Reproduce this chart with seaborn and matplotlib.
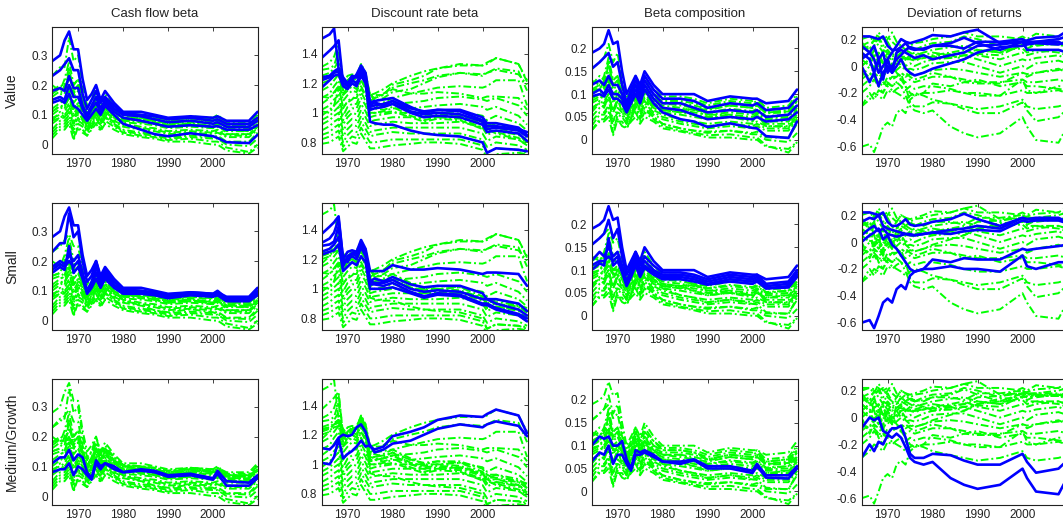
import seaborn as sns
import matplotlib.pyplot as plt

# sample points (years) shared by every series
YEARS = [1964.2, 1966, 1967, 1968, 1969, 1970, 1971, 1972, 1973, 1974, 1975, 1976,
         1978, 1980, 1984, 1987, 1990, 1995, 2000, 2001, 2003, 2008, 2009.9]

# ---- Cash flow beta ----
CF_VALUE = [
    [0.28, 0.30, 0.35, 0.38, 0.32, 0.32, 0.22, 0.15, 0.17, 0.20, 0.15, 0.18, 0.14, 0.11, 0.11, 0.10, 0.09, 0.095, 0.09, 0.095, 0.08, 0.08, 0.11],
    [0.23, 0.25, 0.27, 0.29, 0.25, 0.25, 0.17, 0.12, 0.15, 0.18, 0.14, 0.16, 0.13, 0.105, 0.10, 0.095, 0.085, 0.09, 0.08, 0.085, 0.07, 0.07, 0.09],
    [0.18, 0.19, 0.18, 0.23, 0.19, 0.19, 0.13, 0.10, 0.13, 0.16, 0.12, 0.15, 0.12, 0.10, 0.095, 0.085, 0.075, 0.08, 0.07, 0.075, 0.06, 0.06, 0.08],
    [0.15, 0.16, 0.15, 0.20, 0.16, 0.16, 0.12, 0.09, 0.12, 0.14, 0.11, 0.14, 0.11, 0.09, 0.08, 0.07, 0.06, 0.065, 0.06, 0.062, 0.05, 0.05, 0.065],
    [0.14, 0.15, 0.14, 0.17, 0.13, 0.12, 0.10, 0.08, 0.10, 0.12, 0.10, 0.13, 0.10, 0.07, 0.05, 0.035, 0.028, 0.038, 0.028, 0.022, 0.008, 0.005, 0.033],
]
CF_SMALL = [
    [0.23, 0.26, 0.26, 0.36, 0.28, 0.30, 0.20, 0.13, 0.15, 0.20, 0.14, 0.17, 0.13, 0.105, 0.10, 0.095, 0.085, 0.095, 0.09, 0.10, 0.075, 0.075, 0.10],
    [0.18, 0.20, 0.19, 0.22, 0.20, 0.22, 0.16, 0.10, 0.13, 0.18, 0.13, 0.16, 0.12, 0.10, 0.10, 0.09, 0.08, 0.09, 0.085, 0.095, 0.07, 0.07, 0.095],
    [0.17, 0.19, 0.18, 0.20, 0.18, 0.20, 0.15, 0.10, 0.12, 0.16, 0.12, 0.15, 0.115, 0.095, 0.095, 0.09, 0.08, 0.09, 0.085, 0.09, 0.07, 0.07, 0.09],
    [0.16, 0.18, 0.17, 0.25, 0.16, 0.18, 0.14, 0.09, 0.11, 0.14, 0.11, 0.14, 0.11, 0.09, 0.09, 0.085, 0.075, 0.085, 0.08, 0.085, 0.065, 0.065, 0.085],
]
CF_MIDGROWTH = [
    [0.11, 0.13, 0.13, 0.155, 0.12, 0.14, 0.13, 0.08, 0.06, 0.12, 0.10, 0.11, 0.10, 0.08, 0.09, 0.085, 0.07, 0.075, 0.06, 0.085, 0.05, 0.045, 0.07],
    [0.08, 0.09, 0.09, 0.11, 0.07, 0.10, 0.09, 0.07, 0.055, 0.11, 0.09, 0.11, 0.09, 0.08, 0.085, 0.08, 0.065, 0.07, 0.055, 0.075, 0.035, 0.035, 0.06],
]
CF_OTHER = [
    [0.20, 0.18, 0.22, 0.28, 0.20, 0.22, 0.15, 0.10, 0.13, 0.16, 0.12, 0.16, 0.12, 0.10, 0.09, 0.085, 0.075, 0.085, 0.08, 0.09, 0.065, 0.065, 0.09],
    [0.12, 0.14, 0.15, 0.20, 0.14, 0.16, 0.12, 0.08, 0.11, 0.13, 0.10, 0.13, 0.10, 0.085, 0.08, 0.075, 0.065, 0.07, 0.065, 0.07, 0.055, 0.055, 0.075],
    [0.10, 0.12, 0.13, 0.16, 0.10, 0.13, 0.10, 0.07, 0.10, 0.12, 0.09, 0.12, 0.09, 0.075, 0.07, 0.065, 0.055, 0.06, 0.055, 0.06, 0.045, 0.045, 0.065],
    [0.09, 0.10, 0.11, 0.14, 0.08, 0.11, 0.09, 0.06, 0.09, 0.11, 0.08, 0.11, 0.085, 0.07, 0.06, 0.055, 0.045, 0.05, 0.045, 0.05, 0.035, 0.035, 0.06],
    [0.07, 0.09, 0.10, 0.12, 0.06, 0.09, 0.07, 0.05, 0.08, 0.10, 0.07, 0.10, 0.075, 0.06, 0.05, 0.045, 0.035, 0.04, 0.035, 0.04, 0.025, 0.025, 0.05],
    [0.05, 0.08, 0.08, 0.10, 0.02, 0.07, 0.06, 0.04, 0.07, 0.09, 0.06, 0.09, 0.07, 0.05, 0.04, 0.035, 0.025, 0.03, 0.025, 0.03, 0.01, 0.01, 0.04],
    [0.03, 0.06, 0.06, 0.08, 0.04, 0.05, 0.05, 0.03, 0.06, 0.08, 0.05, 0.08, 0.06, 0.04, 0.03, 0.025, 0.015, 0.02, 0.01, 0.01, -0.01, -0.025, 0.0],
    [0.11, 0.13, 0.12, 0.18, 0.12, 0.14, 0.11, 0.075, 0.105, 0.125, 0.095, 0.125, 0.095, 0.08, 0.075, 0.07, 0.06, 0.065, 0.06, 0.065, 0.05, 0.05, 0.07],
    [0.08, 0.11, 0.09, 0.13, 0.09, 0.12, 0.08, 0.055, 0.085, 0.105, 0.075, 0.105, 0.08, 0.065, 0.055, 0.05, 0.04, 0.045, 0.04, 0.045, 0.03, 0.03, 0.055],
    [0.04, 0.07, 0.07, 0.09, 0.05, 0.08, 0.07, 0.045, 0.075, 0.09, 0.065, 0.095, 0.065, 0.045, 0.035, 0.03, 0.02, 0.025, 0.02, 0.02, 0.0, -0.005, 0.02],
    [0.02, 0.05, 0.05, 0.07, 0.015, 0.06, 0.04, 0.03, 0.05, 0.07, 0.045, 0.07, 0.05, 0.035, 0.025, 0.02, 0.01, 0.01, 0.0, 0.0, -0.02, -0.03, -0.01],
    [0.15, 0.16, 0.20, 0.26, 0.17, 0.20, 0.14, 0.09, 0.12, 0.15, 0.11, 0.15, 0.11, 0.09, 0.085, 0.08, 0.07, 0.08, 0.075, 0.085, 0.06, 0.06, 0.085],
]

# ---- Discount rate beta ----
DR_VALUE = [
    [1.37, 1.42, 1.45, 1.49, 1.20, 1.18, 1.24, 1.24, 1.30, 1.24, 1.05, 1.07, 1.05, 1.08, 1.03, 1.01, 1.02, 1.02, 0.97, 0.93, 0.93, 0.90, 0.85],
    [1.50, 1.53, 1.57, 1.30, 1.24, 1.20, 1.22, 1.26, 1.32, 1.27, 1.07, 1.08, 1.09, 1.10, 1.04, 1.00, 1.02, 1.01, 0.95, 0.91, 0.91, 0.89, 0.87],
    [1.24, 1.25, 1.28, 1.30, 1.22, 1.20, 1.25, 1.24, 1.30, 1.25, 1.04, 1.05, 1.06, 1.08, 1.01, 0.99, 1.00, 0.99, 0.94, 0.89, 0.90, 0.88, 0.84],
    [1.22, 1.24, 1.27, 1.28, 1.20, 1.19, 1.22, 1.20, 1.27, 1.22, 1.02, 1.03, 1.04, 1.06, 1.00, 0.97, 0.98, 0.97, 0.92, 0.87, 0.88, 0.86, 0.81],
    [1.17, 1.22, 1.25, 1.26, 1.18, 1.16, 1.20, 1.18, 1.25, 1.20, 0.94, 0.93, 0.92, 0.92, 0.88, 0.86, 0.85, 0.84, 0.80, 0.73, 0.76, 0.75, 0.74],
]
DR_SMALL = [
    [1.31, 1.34, 1.38, 1.47, 1.20, 1.25, 1.26, 1.25, 1.33, 1.27, 1.12, 1.12, 1.12, 1.16, 1.13, 1.13, 1.14, 1.13, 1.10, 1.11, 1.11, 1.10, 1.02],
    [1.29, 1.30, 1.32, 1.42, 1.15, 1.22, 1.24, 1.22, 1.30, 1.25, 1.03, 1.03, 1.02, 1.04, 0.98, 0.95, 0.97, 0.96, 0.90, 0.90, 0.87, 0.83, 0.80],
    [1.23, 1.25, 1.26, 1.30, 1.12, 1.15, 1.18, 1.16, 1.22, 1.18, 1.00, 1.00, 1.00, 1.01, 0.97, 0.94, 0.96, 0.95, 0.89, 0.89, 0.86, 0.82, 0.78],
    [1.25, 1.27, 1.30, 1.35, 1.18, 1.20, 1.22, 1.20, 1.28, 1.22, 1.05, 1.04, 1.04, 1.06, 1.00, 0.98, 0.99, 0.98, 0.93, 0.93, 0.90, 0.86, 0.82],
]
DR_MIDGROWTH = [
    [1.11, 1.10, 1.13, 1.18, 1.20, 1.19, 1.20, 1.25, 1.27, 1.22, 1.12, 1.10, 1.12, 1.19, 1.22, 1.25, 1.30, 1.33, 1.32, 1.34, 1.37, 1.33, 1.21],
    [1.01, 1.00, 1.05, 1.17, 1.04, 1.07, 1.09, 1.12, 1.16, 1.12, 1.13, 1.08, 1.10, 1.14, 1.16, 1.20, 1.24, 1.27, 1.25, 1.27, 1.29, 1.26, 1.19],
]
DR_OTHER = [
    [1.20, 1.22, 1.27, 1.30, 1.18, 1.22, 1.25, 1.24, 1.33, 1.25, 1.12, 1.13, 1.16, 1.20, 1.25, 1.28, 1.30, 1.32, 1.32, 1.33, 1.37, 1.33, 1.22],
    [1.15, 1.18, 1.22, 1.26, 1.12, 1.18, 1.20, 1.18, 1.27, 1.20, 1.08, 1.10, 1.13, 1.17, 1.20, 1.22, 1.25, 1.27, 1.26, 1.27, 1.30, 1.28, 1.15],
    [1.10, 1.13, 1.18, 1.22, 1.08, 1.12, 1.15, 1.14, 1.22, 1.16, 1.04, 1.05, 1.07, 1.10, 1.13, 1.15, 1.17, 1.18, 1.17, 1.18, 1.22, 1.22, 1.05],
    [1.06, 1.10, 1.14, 1.18, 1.03, 1.08, 1.10, 1.10, 1.18, 1.12, 1.02, 1.03, 1.04, 1.06, 1.07, 1.08, 1.10, 1.11, 1.09, 1.08, 1.10, 1.05, 0.98],
    [1.02, 1.05, 1.09, 1.12, 0.98, 1.04, 1.06, 1.06, 1.14, 1.08, 0.99, 1.00, 1.01, 1.03, 1.03, 1.04, 1.05, 1.06, 1.04, 1.02, 1.04, 0.98, 0.92],
    [0.98, 1.02, 1.05, 1.08, 0.95, 1.00, 1.03, 1.03, 1.10, 1.05, 0.97, 0.98, 0.99, 1.00, 1.00, 1.00, 1.00, 1.01, 0.98, 0.95, 0.98, 0.93, 0.88],
    [0.95, 0.98, 1.01, 1.04, 0.92, 0.97, 1.00, 0.99, 1.06, 1.01, 0.94, 0.95, 0.96, 0.97, 0.97, 0.97, 0.97, 0.98, 0.94, 0.90, 0.93, 0.88, 0.84],
    [0.92, 0.95, 0.98, 1.00, 0.88, 0.93, 0.96, 0.95, 1.02, 0.97, 0.91, 0.92, 0.93, 0.94, 0.93, 0.93, 0.93, 0.94, 0.90, 0.85, 0.88, 0.85, 0.80],
    [0.88, 0.91, 0.94, 0.96, 0.84, 0.89, 0.92, 0.91, 0.98, 0.93, 0.87, 0.88, 0.89, 0.90, 0.90, 0.90, 0.90, 0.90, 0.86, 0.81, 0.84, 0.82, 0.78],
    [0.85, 0.87, 0.90, 0.92, 0.80, 0.85, 0.88, 0.87, 0.94, 0.89, 0.84, 0.85, 0.86, 0.87, 0.86, 0.86, 0.86, 0.86, 0.82, 0.77, 0.80, 0.78, 0.75],
    [0.82, 0.84, 0.86, 0.88, 0.77, 0.81, 0.84, 0.83, 0.90, 0.85, 0.80, 0.80, 0.81, 0.82, 0.82, 0.82, 0.82, 0.82, 0.78, 0.73, 0.76, 0.75, 0.73],
    [0.79, 0.80, 0.82, 0.84, 0.74, 0.77, 0.80, 0.79, 0.86, 0.81, 0.76, 0.76, 0.77, 0.78, 0.79, 0.80, 0.80, 0.79, 0.75, 0.70, 0.72, 0.73, 0.72],
]

# ---- Beta composition ----
BC_VALUE = [
    [0.19, 0.20, 0.21, 0.24, 0.21, 0.215, 0.15, 0.10, 0.12, 0.14, 0.12, 0.15, 0.12, 0.10, 0.10, 0.10, 0.085, 0.095, 0.09, 0.09, 0.08, 0.085, 0.11],
    [0.155, 0.17, 0.18, 0.19, 0.16, 0.17, 0.12, 0.08, 0.11, 0.13, 0.11, 0.14, 0.11, 0.09, 0.09, 0.085, 0.07, 0.08, 0.075, 0.08, 0.065, 0.07, 0.09],
    [0.12, 0.13, 0.12, 0.14, 0.12, 0.12, 0.10, 0.07, 0.10, 0.12, 0.10, 0.13, 0.10, 0.08, 0.08, 0.07, 0.06, 0.065, 0.06, 0.065, 0.05, 0.055, 0.075],
    [0.10, 0.11, 0.10, 0.12, 0.10, 0.10, 0.09, 0.065, 0.09, 0.11, 0.09, 0.12, 0.09, 0.07, 0.065, 0.055, 0.045, 0.05, 0.045, 0.05, 0.04, 0.045, 0.06],
    [0.095, 0.10, 0.095, 0.11, 0.09, 0.09, 0.08, 0.06, 0.08, 0.10, 0.08, 0.11, 0.08, 0.06, 0.045, 0.04, 0.028, 0.036, 0.026, 0.025, 0.008, 0.004, 0.04],
]
BC_SMALL = [
    [0.155, 0.17, 0.18, 0.21, 0.17, 0.19, 0.13, 0.09, 0.11, 0.14, 0.11, 0.13, 0.11, 0.095, 0.095, 0.09, 0.08, 0.09, 0.085, 0.09, 0.07, 0.075, 0.10],
    [0.12, 0.14, 0.13, 0.15, 0.13, 0.14, 0.11, 0.075, 0.10, 0.13, 0.10, 0.12, 0.10, 0.09, 0.09, 0.085, 0.075, 0.085, 0.08, 0.085, 0.065, 0.07, 0.095],
    [0.11, 0.12, 0.12, 0.13, 0.12, 0.13, 0.10, 0.07, 0.09, 0.12, 0.09, 0.11, 0.095, 0.085, 0.085, 0.08, 0.07, 0.08, 0.075, 0.08, 0.06, 0.065, 0.09],
    [0.10, 0.115, 0.11, 0.17, 0.11, 0.12, 0.095, 0.065, 0.085, 0.11, 0.085, 0.105, 0.09, 0.08, 0.08, 0.075, 0.068, 0.075, 0.07, 0.075, 0.06, 0.062, 0.085],
]
BC_MIDGROWTH = [
    [0.10, 0.12, 0.115, 0.12, 0.10, 0.10, 0.11, 0.07, 0.05, 0.09, 0.085, 0.09, 0.08, 0.065, 0.065, 0.07, 0.055, 0.055, 0.045, 0.06, 0.035, 0.035, 0.055],
    [0.065, 0.085, 0.08, 0.10, 0.06, 0.08, 0.08, 0.06, 0.045, 0.08, 0.08, 0.085, 0.075, 0.065, 0.06, 0.068, 0.05, 0.05, 0.04, 0.055, 0.03, 0.028, 0.05],
]
BC_OTHER = [
    [0.13, 0.12, 0.14, 0.18, 0.13, 0.14, 0.10, 0.07, 0.09, 0.11, 0.09, 0.11, 0.09, 0.08, 0.075, 0.07, 0.065, 0.075, 0.07, 0.075, 0.058, 0.06, 0.085],
    [0.09, 0.10, 0.11, 0.14, 0.10, 0.11, 0.09, 0.06, 0.08, 0.10, 0.08, 0.10, 0.08, 0.07, 0.065, 0.06, 0.055, 0.06, 0.055, 0.06, 0.048, 0.05, 0.07],
    [0.08, 0.09, 0.10, 0.12, 0.08, 0.10, 0.08, 0.055, 0.075, 0.09, 0.07, 0.09, 0.07, 0.06, 0.055, 0.05, 0.045, 0.05, 0.045, 0.05, 0.04, 0.04, 0.06],
    [0.07, 0.08, 0.085, 0.10, 0.06, 0.085, 0.07, 0.05, 0.07, 0.085, 0.065, 0.085, 0.065, 0.055, 0.045, 0.04, 0.035, 0.04, 0.035, 0.04, 0.03, 0.03, 0.05],
    [0.05, 0.07, 0.075, 0.09, 0.04, 0.07, 0.06, 0.04, 0.06, 0.075, 0.055, 0.075, 0.055, 0.045, 0.035, 0.03, 0.025, 0.03, 0.025, 0.03, 0.02, 0.02, 0.045],
    [0.04, 0.06, 0.06, 0.075, 0.015, 0.055, 0.05, 0.035, 0.05, 0.065, 0.045, 0.065, 0.05, 0.035, 0.025, 0.02, 0.018, 0.02, 0.015, 0.018, 0.005, 0.005, 0.035],
    [0.02, 0.045, 0.045, 0.06, 0.03, 0.04, 0.04, 0.025, 0.045, 0.06, 0.04, 0.06, 0.045, 0.03, 0.02, 0.015, 0.01, 0.012, 0.005, 0.005, -0.012, -0.028, -0.005],
    [0.085, 0.095, 0.09, 0.13, 0.09, 0.105, 0.085, 0.06, 0.08, 0.095, 0.075, 0.095, 0.075, 0.065, 0.06, 0.055, 0.05, 0.055, 0.05, 0.055, 0.045, 0.045, 0.065],
    [0.06, 0.08, 0.07, 0.095, 0.065, 0.09, 0.06, 0.045, 0.065, 0.08, 0.06, 0.08, 0.06, 0.05, 0.04, 0.035, 0.03, 0.035, 0.03, 0.035, 0.025, 0.025, 0.045],
    [0.03, 0.055, 0.055, 0.07, 0.04, 0.06, 0.055, 0.035, 0.055, 0.07, 0.05, 0.07, 0.05, 0.035, 0.025, 0.02, 0.015, 0.02, 0.012, 0.012, 0.0, -0.005, 0.015],
    [0.02, 0.04, 0.04, 0.05, 0.01, 0.045, 0.03, 0.025, 0.04, 0.05, 0.035, 0.05, 0.04, 0.025, 0.018, 0.012, 0.005, 0.005, 0.0, 0.0, -0.015, -0.02, -0.005],
    [0.11, 0.11, 0.13, 0.17, 0.12, 0.13, 0.095, 0.065, 0.085, 0.105, 0.085, 0.105, 0.085, 0.075, 0.07, 0.065, 0.06, 0.068, 0.063, 0.068, 0.052, 0.055, 0.078],
]

# ---- Deviation of returns ----
DV_VALUE = [
    [0.22, 0.22, 0.21, 0.20, 0.22, 0.15, 0.12, 0.12, 0.14, 0.17, 0.13, 0.12, 0.13, 0.15, 0.17, 0.21, 0.17, 0.12, 0.18, 0.17, 0.18, 0.18, 0.15],
    [0.15, 0.10, 0.05, -0.05, 0.0, 0.05, 0.10, 0.15, 0.20, 0.18, 0.17, 0.18, 0.20, 0.23, 0.22, 0.25, 0.27, 0.17, 0.18, 0.19, 0.21, 0.22, 0.26],
    [0.10, 0.05, -0.05, -0.15, -0.05, 0.0, -0.05, 0.0, 0.05, -0.02, -0.05, -0.07, -0.05, -0.02, 0.02, 0.05, 0.10, 0.14, 0.15, 0.16, 0.17, 0.16, 0.18],
    [0.0, -0.12, -0.05, 0.05, -0.10, 0.05, -0.05, 0.10, 0.12, 0.10, 0.08, 0.06, 0.08, 0.05, 0.08, 0.10, 0.15, 0.16, 0.18, 0.12, 0.12, 0.12, 0.10],
    [0.05, 0.10, 0.15, 0.05, 0.10, -0.05, 0.0, 0.05, 0.08, 0.12, 0.14, 0.13, 0.12, 0.15, 0.15, 0.13, 0.18, 0.18, 0.20, 0.18, 0.18, 0.20, 0.22],
]
DV_SMALL = [
    [0.15, 0.18, 0.17, 0.20, 0.12, 0.10, 0.09, 0.08, 0.07, 0.06, 0.05, 0.05, 0.06, 0.07, 0.09, 0.10, 0.12, 0.10, 0.18, 0.17, 0.17, 0.17, 0.15],
    [0.0, 0.05, 0.07, 0.10, 0.02, 0.05, -0.02, -0.05, -0.10, -0.15, -0.20, -0.22, -0.20, -0.20, -0.18, -0.20, -0.20, -0.22, -0.10, -0.18, -0.20, -0.15, -0.15],
    [-0.60, -0.58, -0.64, -0.55, -0.45, -0.42, -0.45, -0.35, -0.32, -0.35, -0.25, -0.22, -0.20, -0.13, -0.15, -0.12, -0.13, -0.13, -0.05, -0.06, -0.05, -0.03, -0.02],
    [0.05, 0.10, 0.12, 0.08, 0.10, 0.06, 0.05, 0.04, 0.05, 0.06, 0.06, 0.05, 0.06, 0.07, 0.06, 0.08, 0.09, 0.08, 0.16, 0.15, 0.16, 0.16, 0.14],
]
DV_MIDGROWTH = [
    [-0.08, 0.0, -0.02, 0.0, -0.10, -0.12, -0.08, -0.08, -0.06, -0.15, -0.27, -0.30, -0.30, -0.27, -0.28, -0.32, -0.35, -0.35, -0.27, -0.33, -0.41, -0.38, -0.32],
    [-0.30, -0.20, -0.25, -0.18, -0.20, -0.13, -0.15, -0.12, -0.15, -0.22, -0.30, -0.33, -0.35, -0.33, -0.45, -0.50, -0.53, -0.50, -0.38, -0.45, -0.55, -0.57, -0.45],
]
DV_OTHER = [
    [0.20, 0.22, 0.18, 0.25, 0.20, 0.22, 0.18, 0.15, 0.20, 0.18, 0.15, 0.12, 0.15, 0.17, 0.18, 0.22, 0.20, 0.15, 0.22, 0.20, 0.24, 0.22, 0.20],
    [0.15, 0.12, 0.20, 0.15, 0.10, 0.18, 0.12, 0.10, 0.15, 0.12, 0.10, 0.08, 0.10, 0.12, 0.14, 0.15, 0.12, 0.10, 0.15, 0.13, 0.16, 0.17, 0.15],
    [0.10, 0.05, 0.12, 0.10, 0.02, 0.10, 0.05, 0.07, 0.10, 0.05, 0.05, 0.04, 0.06, 0.08, 0.10, 0.12, 0.08, 0.05, 0.10, 0.08, 0.10, 0.12, 0.10],
    [0.05, 0.0, 0.08, 0.02, -0.05, 0.05, 0.0, 0.02, 0.05, 0.0, 0.02, 0.0, 0.03, 0.05, 0.06, 0.08, 0.05, 0.0, 0.05, 0.04, 0.06, 0.08, 0.05],
    [-0.05, -0.08, 0.0, -0.05, -0.10, 0.0, -0.05, -0.03, 0.0, -0.03, -0.02, -0.03, -0.01, 0.02, 0.03, 0.03, 0.0, -0.05, 0.0, -0.02, 0.02, 0.04, 0.02],
    [-0.10, -0.05, -0.08, -0.12, -0.15, -0.08, -0.10, -0.08, -0.05, -0.08, -0.06, -0.07, -0.05, -0.03, -0.02, -0.03, -0.05, -0.08, -0.05, -0.08, -0.05, -0.02, -0.05],
    [-0.20, -0.15, -0.10, -0.15, -0.20, -0.12, -0.15, -0.12, -0.10, -0.12, -0.10, -0.12, -0.10, -0.08, -0.08, -0.10, -0.12, -0.12, -0.10, -0.12, -0.12, -0.10, -0.12],
    [-0.30, -0.25, -0.20, -0.22, -0.25, -0.18, -0.20, -0.17, -0.15, -0.18, -0.15, -0.17, -0.15, -0.15, -0.17, -0.20, -0.22, -0.22, -0.18, -0.20, -0.20, -0.18, -0.20],
    [0.18, 0.10, 0.15, 0.22, 0.15, 0.20, 0.25, 0.18, 0.15, 0.12, 0.15, 0.17, 0.18, 0.20, 0.22, 0.25, 0.22, 0.22, 0.20, 0.18, 0.15, 0.17, 0.18],
    [-0.15, -0.10, -0.05, -0.08, -0.12, -0.15, -0.18, -0.20, -0.22, -0.25, -0.22, -0.20, -0.22, -0.25, -0.28, -0.30, -0.32, -0.30, -0.25, -0.30, -0.32, -0.30, -0.28],
    [0.12, 0.15, 0.05, 0.0, 0.08, 0.12, 0.08, 0.05, 0.0, 0.05, 0.08, 0.10, 0.08, 0.10, 0.08, 0.05, 0.10, 0.12, 0.13, 0.10, 0.12, 0.10, 0.08],
    [0.0, 0.05, -0.03, 0.05, 0.0, -0.02, 0.02, -0.05, -0.08, -0.05, -0.08, -0.10, -0.08, -0.05, -0.08, -0.12, -0.10, -0.15, -0.12, -0.15, -0.15, -0.17, -0.18],
]

TITLES = ['Cash flow beta', 'Discount rate beta', 'Beta composition', 'Deviation of returns']
ROW_LABELS = ['Value', 'Small', 'Medium/Growth']
Y_TICKS = [
    [0, 0.1, 0.2, 0.3],
    [0.8, 1.0, 1.2, 1.4],
    [0, 0.05, 0.1, 0.15, 0.2],
    [-0.6, -0.4, -0.2, 0, 0.2],
]
Y_TICK_LABELS = [
    ['0', '0.1', '0.2', '0.3'],
    ['0.8', '1', '1.2', '1.4'],
    ['0', '0.05', '0.1', '0.15', '0.2'],
    ['-0.6', '-0.4', '-0.2', '0', '0.2'],
]
Y_LIMS = [(-0.03, 0.395), (0.725, 1.58), (-0.03, 0.247), (-0.65, 0.29)]
X_TICKS = [1970, 1980, 1990, 2000]

COLUMNS = [
    (CF_VALUE, CF_SMALL, CF_MIDGROWTH, CF_OTHER),
    (DR_VALUE, DR_SMALL, DR_MIDGROWTH, DR_OTHER),
    (BC_VALUE, BC_SMALL, BC_MIDGROWTH, BC_OTHER),
    (DV_VALUE, DV_SMALL, DV_MIDGROWTH, DV_OTHER),
]

sns.set_style('white')
plt.rcParams['font.family'] = ['Liberation Sans', 'DejaVu Sans']

W, H = 1063, 529
fig = plt.figure(figsize=(W / 100, H / 100), dpi=100)

col_left = [52, 321.5, 591.5, 861.5]
row_top = [27, 203, 378.5]
ax_w, ax_h = 206, 126.5

GREEN = '#00ff00'
BLUE = '#0000ff'

for c, (val, sml, mid, oth) in enumerate(COLUMNS):
    series = val + sml + mid + oth
    nv, ns, nm = len(val), len(sml), len(mid)
    highlight = [
        list(range(nv)),
        [0] + list(range(nv, nv + ns)),
        list(range(nv + ns, nv + ns + nm)),
    ]
    for r in range(3):
        ax = fig.add_axes([col_left[c] / W, 1 - (row_top[r] + ax_h) / H, ax_w / W, ax_h / H])
        hl = highlight[r]
        # background portfolios: green dash-dot
        for i, s in enumerate(series):
            if i in hl:
                continue
            sns.lineplot(x=YEARS, y=s, ax=ax, color=GREEN, lw=1.4,
                         linestyle=(0, (4, 1.5, 1, 1.5)), estimator=None, legend=False)
        # highlighted portfolios: solid blue
        for i in hl:
            sns.lineplot(x=YEARS, y=series[i], ax=ax, color=BLUE, lw=1.9,
                         estimator=None, legend=False)

        ax.set_xlim(1964.2, 2010)
        ax.set_ylim(*Y_LIMS[c])
        ax.set_xticks(X_TICKS)
        ax.set_xticklabels([str(x) for x in X_TICKS])
        ax.set_yticks(Y_TICKS[c])
        ax.set_yticklabels(Y_TICK_LABELS[c])
        ax.tick_params(direction='in', length=3, width=0.6, top=True, right=True,
                       labelsize=8.5, colors='#222222', pad=3)
        ax.set_xlabel('')
        ax.set_ylabel('')
        for sp in ax.spines.values():
            sp.set_linewidth(0.8)
            sp.set_color('#222222')
        if r == 0:
            ax.set_title(TITLES[c], fontsize=9.5, pad=7, color='#222222')
        if c == 0:
            ax.set_ylabel(ROW_LABELS[r], fontsize=10, color='#222222')
            ax.yaxis.set_label_coords(-0.16, 0.5)

fig.savefig('out.png', dpi=100)
